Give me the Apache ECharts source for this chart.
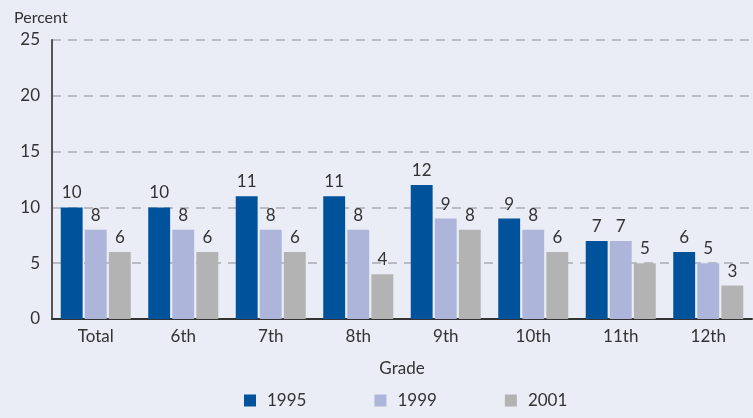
<!DOCTYPE html>
<html>
<head>
<meta charset="utf-8">
<script src="https://cdn.jsdelivr.net/npm/echarts@6/dist/echarts.min.js"></script>
<style>
  html, body { margin: 0; padding: 0; background: #eaedf6; }
  #chart { width: 753px; height: 418px; }
</style>
</head>
<body>
<div id="chart"></div>
<script>
const grades = ['Total', '6th', '7th', '8th', '9th', '10th', '11th', '12th']
const y1995 = [10, 10, 11, 11, 12, 9, 7, 6]
const y1999 = [8, 8, 8, 8, 9, 8, 7, 5]
const y2001 = [6, 6, 6, 4, 8, 6, 5, 3]
const yTicks = [0, 5, 10, 15, 20, 25]

const font = 'Lato, "Open Sans", sans-serif'
const chart = echarts.init(document.getElementById('chart'))

const bar = (name, data, color) => ({
  name,
  type: 'bar',
  data,
  barGap: '10%',
  barCategoryGap: '20%',
  itemStyle: { color },
  label: {
    show: true,
    position: 'top',
    distance: 6,
    color: '#333',
    fontFamily: font,
    fontSize: 17,
  },
})

chart.setOption({
  backgroundColor: '#eaedf6',
  textStyle: { fontFamily: font },
  title: {
    text: 'Percent',
    left: 9,
    top: 5,
    textStyle: { fontSize: 16, fontWeight: 'normal', color: '#333', fontFamily: font },
  },
  legend: {
    bottom: 4,
    left: 239,
    itemWidth: 12,
    itemHeight: 12,
    itemGap: 68,
    icon: 'rect',
    textStyle: { fontSize: 17, color: '#333', fontFamily: font, padding: [0, 0, 0, 6] },
  },
  grid: { left: 52, right: 1, top: 40, bottom: 99 },
  xAxis: {
    type: 'category',
    data: grades,
    name: 'Grade',
    nameLocation: 'middle',
    nameGap: 41,
    nameTextStyle: { fontSize: 17, color: '#333', fontFamily: font },
    axisLine: { lineStyle: { color: '#333', width: 2 } },
    axisTick: { show: false },
    axisLabel: { fontSize: 17, color: '#333', margin: 9, fontFamily: font },
  },
  yAxis: {
    type: 'value',
    min: yTicks[0],
    max: yTicks[yTicks.length - 1],
    interval: 5,
    axisLine: { show: true, lineStyle: { color: '#555', width: 2 } },
    axisTick: { show: false },
    axisLabel: { fontSize: 17, color: '#333', margin: 12, fontFamily: font },
    splitLine: { lineStyle: { color: '#a9abb0', type: [9, 7], width: 1.5 } },
  },
  series: [
    bar('1995', y1995, '#00529b'),
    bar('1999', y1999, '#adb6da'),
    bar('2001', y2001, '#b3b3b3'),
  ],
})
</script>
</body>
</html>
